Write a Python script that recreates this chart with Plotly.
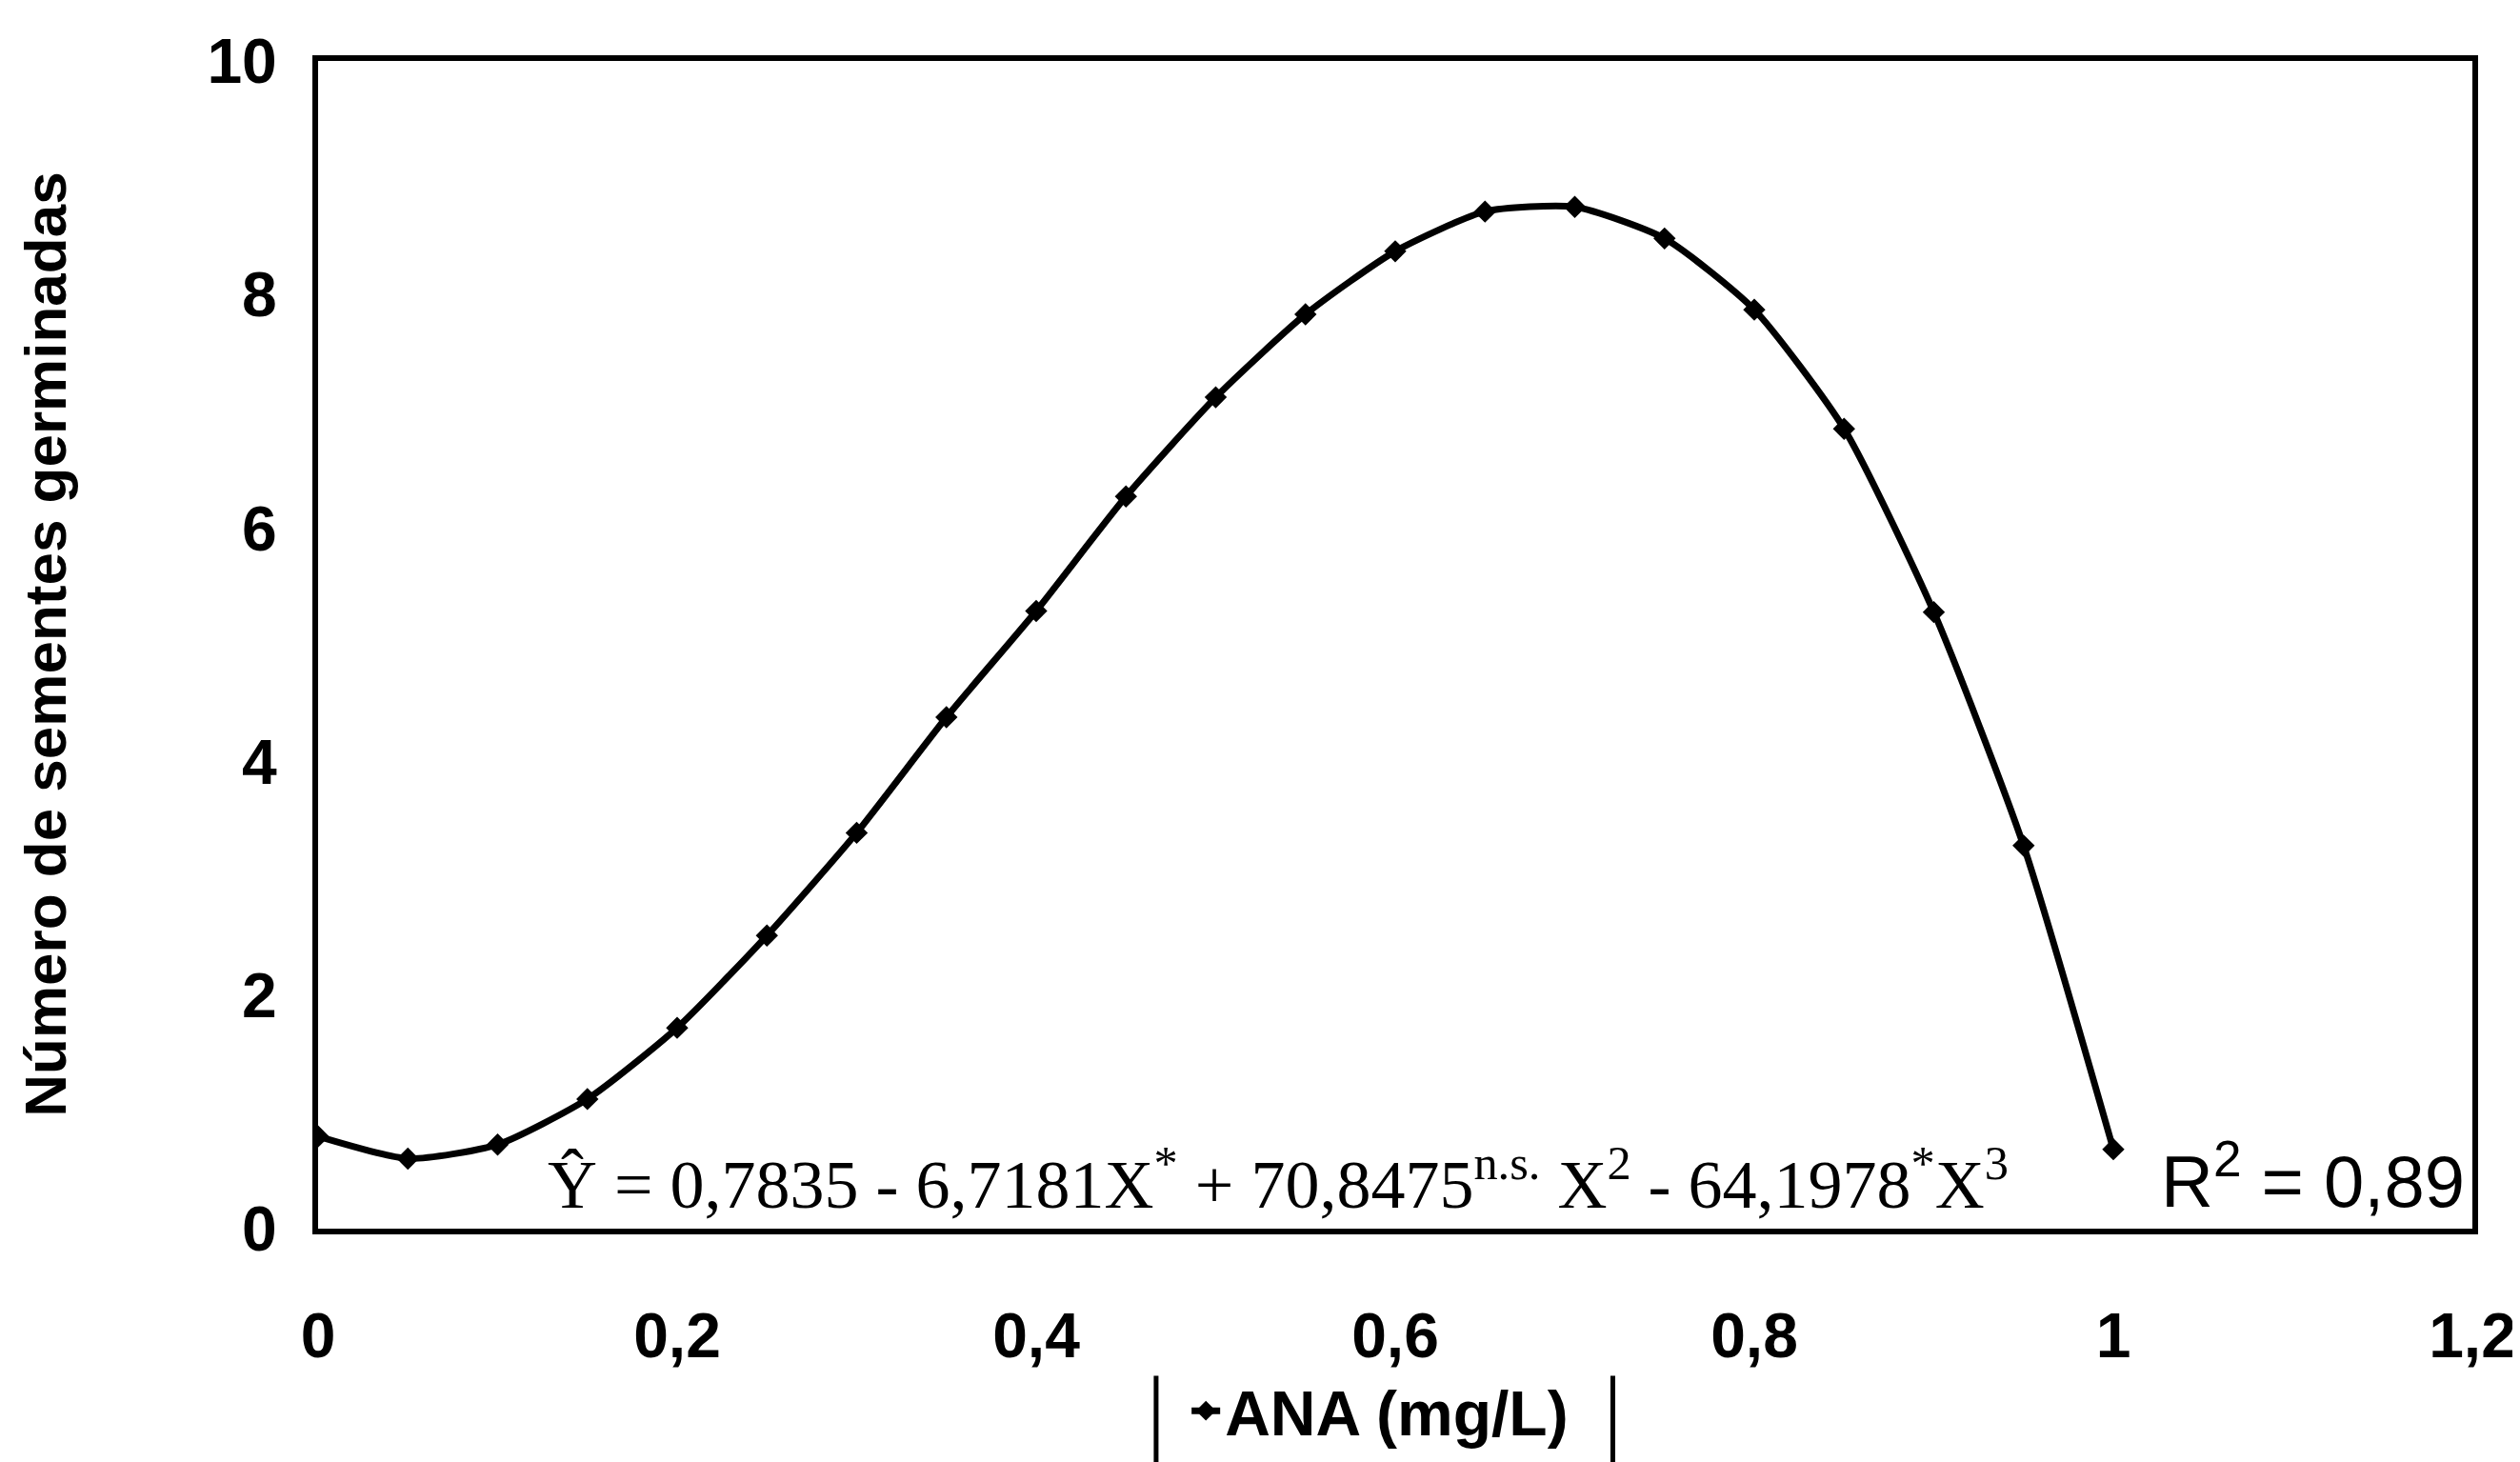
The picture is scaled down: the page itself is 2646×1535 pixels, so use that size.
import plotly.graph_objects as go

# ANA concentration (mg/L) and germinated seeds
ana_mg_l = [0, 0.05, 0.1, 0.15, 0.2, 0.25, 0.3, 0.35, 0.4, 0.45, 0.5,
            0.55, 0.6, 0.65, 0.7, 0.75, 0.8, 0.85, 0.9, 0.95, 1.0]
sementes = [0.79, 0.60, 0.72, 1.11, 1.72, 2.51, 3.39, 4.38, 5.29, 6.27, 7.12,
            7.83, 8.37, 8.71, 8.75, 8.48, 7.87, 6.85, 5.28, 3.28, 0.68]

x_ticks = [0, 0.2, 0.4, 0.6, 0.8, 1.0, 1.2]
y_ticks = [0, 2, 4, 6, 8, 10]

equacao = ("Ŷ = 0,7835 - 6,7181X<sup>*</sup> + 70,8475<sup>n.s.</sup> X<sup>2</sup>"
           " - 64,1978<sup>*</sup>X<sup>3</sup>")
r2_txt = "R<sup>2</sup> = 0,89"

sans = "Liberation Sans, Arial, sans-serif"
serif = "Liberation Serif, Times New Roman, serif"

fig = go.Figure()
fig.add_trace(go.Scatter(
    x=ana_mg_l, y=sementes,
    mode='lines+markers',
    name='<b>ANA (mg/L)</b>',
    line=dict(color='black', width=7, shape='spline', smoothing=0.6),
    marker=dict(symbol='diamond', size=18, color='black'),
))

fig.add_annotation(x=0.127, y=0.42, xref='x', yref='y', text=equacao,
                   showarrow=False, xanchor='left', yanchor='middle',
                   font=dict(family=serif, size=72, color='black'))
fig.add_annotation(x=1.197, y=0.45, xref='x', yref='y', text=r2_txt,
                   showarrow=False, xanchor='right', yanchor='middle',
                   font=dict(family=sans, size=76, color='black'))

# y axis title as a rotated annotation
fig.add_annotation(x=-0.127, y=0.5, xref='paper', yref='paper',
                   text='<b>Número de sementes germinadas</b>', textangle=-90,
                   showarrow=False, xanchor='center', yanchor='middle',
                   font=dict(family=sans, size=62, color='black'))

# side bars of the legend box (top/bottom cut off in the original)
for xb in [0.389, 0.601]:
    fig.add_shape(type='line', xref='paper', yref='paper',
                  x0=xb, x1=xb, y0=-0.126, y1=-0.2,
                  line=dict(color='black', width=5))

fig.update_layout(
    width=2646, height=1535,
    margin=dict(l=326, r=54, t=56, b=236),
    paper_bgcolor='white', plot_bgcolor='white',
    separators=',.',
    showlegend=True,
    legend=dict(x=0.493, y=-0.156, xanchor='center', yanchor='middle',
                orientation='h', font=dict(family=sans, size=66, color='black'),
                bgcolor='rgba(0,0,0,0)'),
    font=dict(family=sans, color='black'),
)
fig.update_xaxes(range=[0, 1.2], tickvals=x_ticks, showgrid=False, zeroline=False,
                 showline=True, mirror=True, linecolor='black', linewidth=6,
                 ticks='', ticklabelstandoff=50,
                 tickfont=dict(family=sans, size=66, color='black', weight='bold'))
fig.update_yaxes(range=[0, 10], tickvals=y_ticks, showgrid=False, zeroline=False,
                 showline=True, mirror=True, linecolor='black', linewidth=6,
                 ticks='', ticklabelstandoff=24,
                 tickfont=dict(family=sans, size=66, color='black', weight='bold'))

fig.write_html("out.html")
